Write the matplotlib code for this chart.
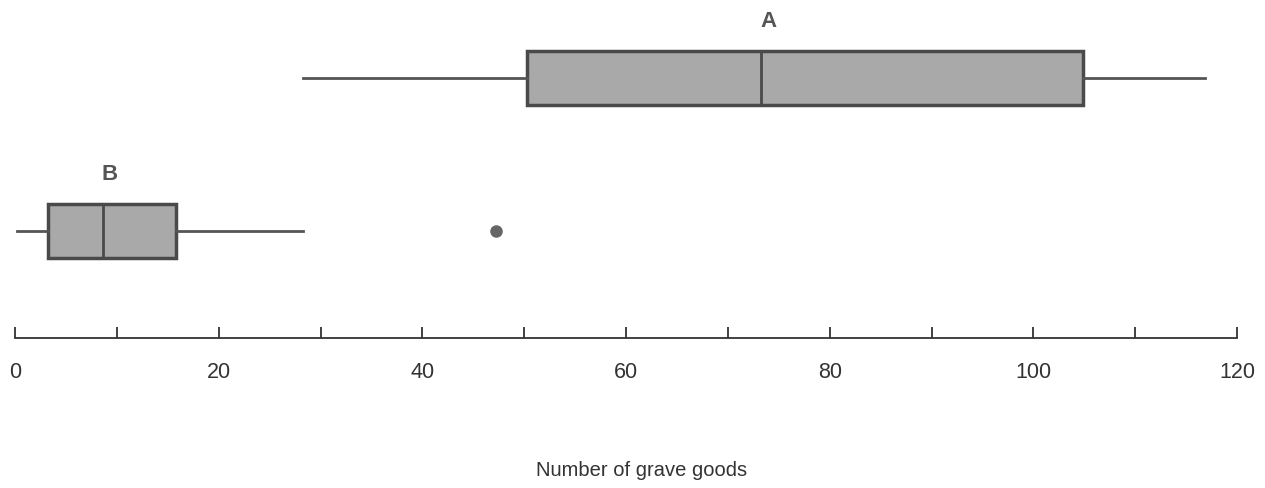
import matplotlib
matplotlib.use("Agg")
import matplotlib.pyplot as plt
from matplotlib.ticker import MultipleLocator

plt.rcParams['font.family'] = ['Liberation Sans', 'DejaVu Sans']

# Data
groups = ["A", "B"]
whislo = [28.3, 0.2]
q1 = [50.3, 3.2]
med = [73.3, 8.6]
q3 = [104.9, 15.8]
whishi = [116.9, 28.3]
fliers = [[], [47.2]]
xlabel = "Number of grave goods"

stats = []
for i, g in enumerate(groups):
    stats.append(dict(label=g, whislo=whislo[i], q1=q1[i], med=med[i],
                      q3=q3[i], whishi=whishi[i], fliers=fliers[i]))

fig = plt.figure(figsize=(12.65, 4.88), dpi=100)
ax = fig.add_axes([15/1265, 1 - 338/488, (1237 - 15)/1265, 338/488])

positions = [0.769, 0.317]
ax.bxp(stats, positions=positions, vert=False, widths=0.16, showcaps=False,
       patch_artist=True,
       boxprops=dict(facecolor="#a9a9a9", edgecolor="#4a4a4a", linewidth=2.5),
       medianprops=dict(color="#4a4a4a", linewidth=2),
       whiskerprops=dict(color="#555555", linewidth=2),
       flierprops=dict(marker="o", markerfacecolor="#666666",
                       markeredgecolor="#666666", markersize=8))

for i, g in enumerate(groups):
    ax.annotate(g, xy=(med[i], positions[i]), xytext=(5, 33),
                textcoords="offset points", ha="center", va="bottom",
                fontsize=16, fontweight="bold", color="#555555")

ax.set_xlim(0, 120)
ax.set_ylim(0, 1)
ax.set_yticks([])
for s in ["left", "top", "right"]:
    ax.spines[s].set_visible(False)
ax.spines["bottom"].set_color("#333333")
ax.spines["bottom"].set_linewidth(1.3)

ax.xaxis.set_major_locator(MultipleLocator(20))
ax.xaxis.set_minor_locator(MultipleLocator(10))
ax.tick_params(axis="x", which="both", direction="in", length=8, width=1.3,
               color="#333333")
ax.tick_params(axis="x", which="major", pad=17, labelsize=15.5,
               labelcolor="#333333")
ax.patch.set_alpha(0)

fig.text(642/1265, 1 - 470/488, xlabel, ha="center", va="center",
         fontsize=14.5, color="#333333")

fig.savefig("out.png", dpi=100)
